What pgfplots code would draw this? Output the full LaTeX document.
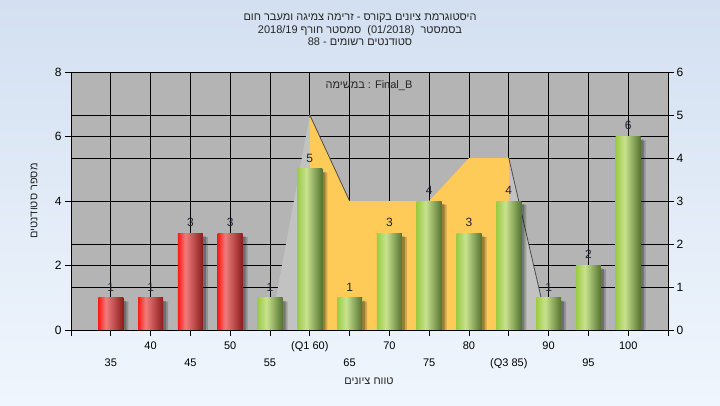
\documentclass[border=0pt]{standalone}
\usepackage{pgfplots}
\pgfplotsset{compat=1.18}
\usepackage{fontspec}
\setmainfont{Liberation Sans}
\newfontfamily\heb[Script=Hebrew]{Liberation Sans}
\TeXXeTstate=1
\definecolor{bgtop}{HTML}{D3E0F1}
\definecolor{bgbot}{HTML}{F0F6FD}
\definecolor{plotbg}{HTML}{B4B4B4}
\definecolor{yel}{HTML}{FECB58}
\definecolor{lgray}{HTML}{C2C2C2}
\definecolor{gL}{HTML}{9CCB45}
\definecolor{gH}{HTML}{C8E28E}
\definecolor{gD}{HTML}{557331}
\definecolor{rL}{HTML}{FF1A1A}
\definecolor{rH}{HTML}{F07C7C}
\definecolor{rD}{HTML}{8A1C1C}
\definecolor{lab}{HTML}{1E2233}
\pgfdeclarehorizontalshading{greenbar}{100bp}{color(0bp)=(gL); color(25bp)=(gL); color(43bp)=(gH); color(75bp)=(gD); color(100bp)=(gD)}
\pgfdeclarehorizontalshading{redbar}{100bp}{color(0bp)=(rL); color(25bp)=(rL); color(40bp)=(rH); color(75bp)=(rD); color(100bp)=(rD)}
\pgfplotsset{
  redb/.style={ybar, bar width=25pt, bar shift=0pt, draw=none, shade, shading=redbar, nodes near coords},
  greenb/.style={ybar, bar width=25pt, bar shift=0pt, draw=none, shade, shading=greenbar, nodes near coords},
}
\begin{document}
\begin{tikzpicture}
\shade[top color=bgtop, bottom color=bgbot] (0pt,0pt) rectangle (720pt,405pt);
% right axis (0-6): grid and area
\begin{axis}[at={(71pt,75pt)}, anchor=south west, scale only axis,
  width=597pt, height=258pt,
  xmin=30, xmax=105, ymin=0, ymax=6,
  axis background/.style={fill=plotbg},
  xtick={35,40,...,100}, xticklabels={}, xmajorgrids, x tick style={draw=none},
  xtick pos=bottom,
  ytick={0,1,...,6}, ytick pos=right, ymajorgrids,
  extra y ticks={1.5,4.5}, extra y tick labels={},
  extra y tick style={grid=major, major tick length=0pt},
  grid style={black, line width=0.7pt},
  major grid style={black, line width=0.7pt},
  tick align=outside, major tick length=6pt,
  axis line style={black, line width=0.8pt},
  tick style={black, line width=0.8pt},
  yticklabel style={font=\fontsize{12}{12}\selectfont, xshift=-1pt},
  /pgf/number format/assume math mode=true,
]
\addplot[fill=lgray, draw=none] coordinates {(55,0) (60,5)} \closedcycle;
\addplot[fill=lgray, draw=none] coordinates {(85,4) (90,0)} \closedcycle;
\addplot[fill=yel, draw=none] coordinates {(60,5) (65,3) (70,3) (75,3) (80,4) (85,4)} \closedcycle;
\addplot[draw=black!70, line width=0.8pt] coordinates {(60,5) (65,3)};
\addplot[draw=black!70, line width=0.8pt] coordinates {(85,4) (90,0)};
\end{axis}
% left axis (0-8): bars
\begin{axis}[at={(71pt,75pt)}, anchor=south west, scale only axis,
  width=597pt, height=258pt,
  xmin=30, xmax=105, ymin=0, ymax=8, axis on top,
  ytick={0,2,...,8}, ytick pos=left,
  xtick={40,50,...,100}, xticklabels={40,50,(Q1 60),70,80,90,100},
  extra x ticks={30,35,45,55,65,75,85,95,105},
  extra x tick labels={,35,45,55,65,75,(Q3 85),95,},
  extra x tick style={tick label style={yshift=-17pt}},
  xtick pos=bottom,
  xticklabel style={font=\fontsize{11}{11}\selectfont, yshift=-2pt},
  yticklabel style={font=\fontsize{12}{12}\selectfont},
  tick align=outside, major tick length=6pt,
  axis line style={black, line width=0.8pt},
  tick style={black, line width=0.8pt},
  /pgf/number format/assume math mode=true,
  every node near coord/.append style={font=\fontsize{12}{12}\selectfont, text=lab, yshift=3pt},
]
\addplot[ybar, bar width=25pt, bar shift=5pt, draw=none, fill=black, fill opacity=0.18, forget plot]
  coordinates {(35,0.88)(40,0.88)(45,2.88)(50,2.88)(55,0.88)(60,4.88)(65,0.88)(70,2.88)(75,3.88)(80,2.88)(85,3.88)(90,0.88)(95,1.88)(100,5.88)};
\addplot[ybar, bar width=25pt, bar shift=3pt, draw=none, fill=black, fill opacity=0.25, forget plot]
  coordinates {(35,0.9)(40,0.9)(45,2.9)(50,2.9)(55,0.9)(60,4.9)(65,0.9)(70,2.9)(75,3.9)(80,2.9)(85,3.9)(90,0.9)(95,1.9)(100,5.9)};
\addplot[redb] coordinates {(35,1)};
\addplot[redb] coordinates {(40,1)};
\addplot[redb] coordinates {(45,3)};
\addplot[redb] coordinates {(50,3)};
\addplot[greenb] coordinates {(55,1)};
\addplot[greenb] coordinates {(60,5)};
\addplot[greenb] coordinates {(65,1)};
\addplot[greenb] coordinates {(70,3)};
\addplot[greenb] coordinates {(75,4)};
\addplot[greenb] coordinates {(80,3)};
\addplot[greenb] coordinates {(85,4)};
\addplot[greenb] coordinates {(90,1)};
\addplot[greenb] coordinates {(95,2)};
\addplot[greenb] coordinates {(100,6)};
\end{axis}
\node[align=center, font=\heb\fontsize{11}{12.7}\selectfont, text=black!85] at (360pt,375pt)
  {\beginR היסטוגרמת ציונים בקורס - זרימה צמיגה ומעבר חום\endR\\
   \beginR בסמסטר\ \ \beginL(01/2018)\endL\ \ סמסטר חורף \beginL 2018/19\endL\endR\\
   \beginR סטודנטים רשומים - \beginL 88\endL\endR};
\node[font=\heb\fontsize{11}{12}\selectfont, text=black!85] at (369pt,319pt)
  {\beginR במשימה\endR{} : Final\_B};
\node[rotate=90, font=\heb\fontsize{11}{12}\selectfont, text=black!85] at (34pt,204pt)
  {\beginR מספר סטודנטים\endR};
\node[font=\heb\fontsize{11}{12}\selectfont, text=black!85] at (369pt,24pt)
  {\beginR טווח ציונים\endR};
\pgfresetboundingbox
\useasboundingbox (0pt,0pt) rectangle (720pt,405pt);
\end{tikzpicture}
\end{document}
